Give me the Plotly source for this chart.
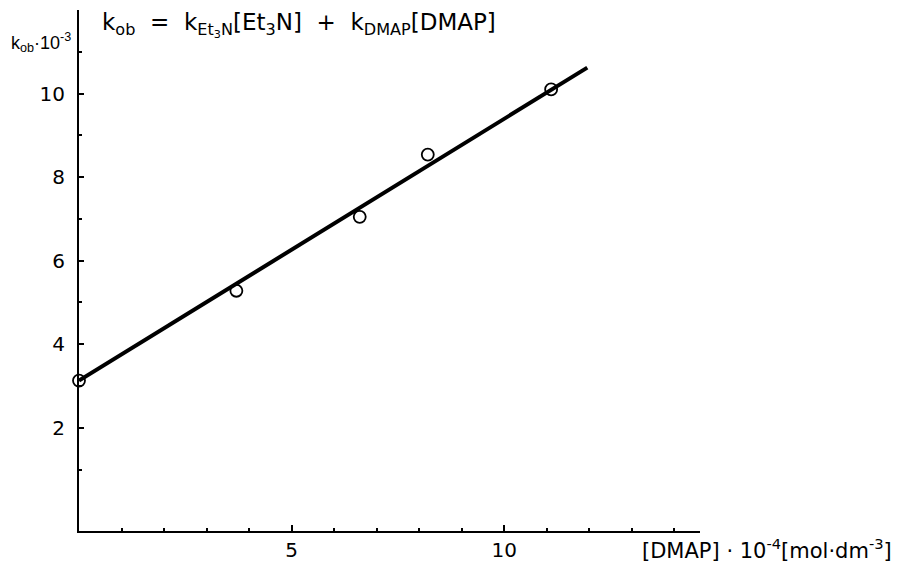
import plotly.graph_objects as go

# Data
dmap_conc = [0.0, 3.7, 6.6, 8.2, 11.1]          # [DMAP]·10^-4 mol·dm^-3
k_obs = [3.13, 5.28, 7.05, 8.54, 10.1]          # k_ob·10^-3
fit_x = [0.0, 11.95]
fit_y = [3.13, 10.62]

y_major = [2, 4, 6, 8, 10]
y_minor = [1, 3, 5, 7, 9, 11]
x_major = [5, 10]
x_minor = [1, 2, 3, 4, 6, 7, 8, 9, 11, 12, 13, 14]

FONT = "DejaVu Sans"

fig = go.Figure()
fig.add_trace(go.Scatter(
    x=fit_x, y=fit_y, mode="lines",
    line=dict(color="black", width=4), hoverinfo="skip", showlegend=False))
fig.add_trace(go.Scatter(
    x=dmap_conc, y=k_obs, mode="markers",
    marker=dict(symbol="circle-open", size=12, color="black", line=dict(width=1.8)),
    cliponaxis=False, showlegend=False))

fig.update_layout(
    width=903, height=569,
    margin=dict(l=71, r=211, t=2, b=46, autoexpand=False),
    paper_bgcolor="white", plot_bgcolor="white",
    font=dict(family=FONT, size=20, color="black"),
    xaxis=dict(range=[0, 14.6], showgrid=False, zeroline=False, automargin=False,
               showline=True, linecolor="black", linewidth=2,
               tickvals=x_major, ticktext=[str(v) for v in x_major],
               tickfont=dict(size=20),
               ticks="inside", ticklen=6, tickwidth=1.5, tickcolor="black",
               minor=dict(tickvals=x_minor, ticks="inside", ticklen=3, tickcolor="black"),
               ticklabelstandoff=0),
    yaxis=dict(range=[-0.47, 12.0], showgrid=False, zeroline=False, automargin=False,
               showline=True, linecolor="black", linewidth=2,
               tickvals=y_major, ticktext=[str(v) for v in y_major],
               tickfont=dict(size=20),
               ticks="inside", ticklen=5, tickwidth=1.5, tickcolor="black",
               minor=dict(tickvals=y_minor, ticks="inside", ticklen=3, tickcolor="black"),
               ticklabelstandoff=8),
)

fig.add_annotation(
    text="k<sub>ob</sub>·10<sup>-3</sup>", xref="paper", yref="paper",
    x=-0.112, y=0.937, xanchor="left", yanchor="middle", showarrow=False,
    font=dict(size=18, family="Liberation Sans"))
fig.add_annotation(
    text="k<sub>ob</sub>  =  k<sub>Et<sub>3</sub>N</sub>[Et<sub>3</sub>N]  +  k<sub>DMAP</sub>[DMAP]",
    xref="paper", yref="paper",
    x=0.034, y=0.971, xanchor="left", yanchor="middle", showarrow=False,
    font=dict(size=23, family=FONT))
fig.add_annotation(
    text="[DMAP] · 10<sup>-4</sup>[mol·dm<sup>-3</sup>]",
    xref="paper", yref="paper",
    x=0.903, y=-0.035, xanchor="left", yanchor="middle", showarrow=False,
    font=dict(size=21, family=FONT))

fig.write_html("out.html")
